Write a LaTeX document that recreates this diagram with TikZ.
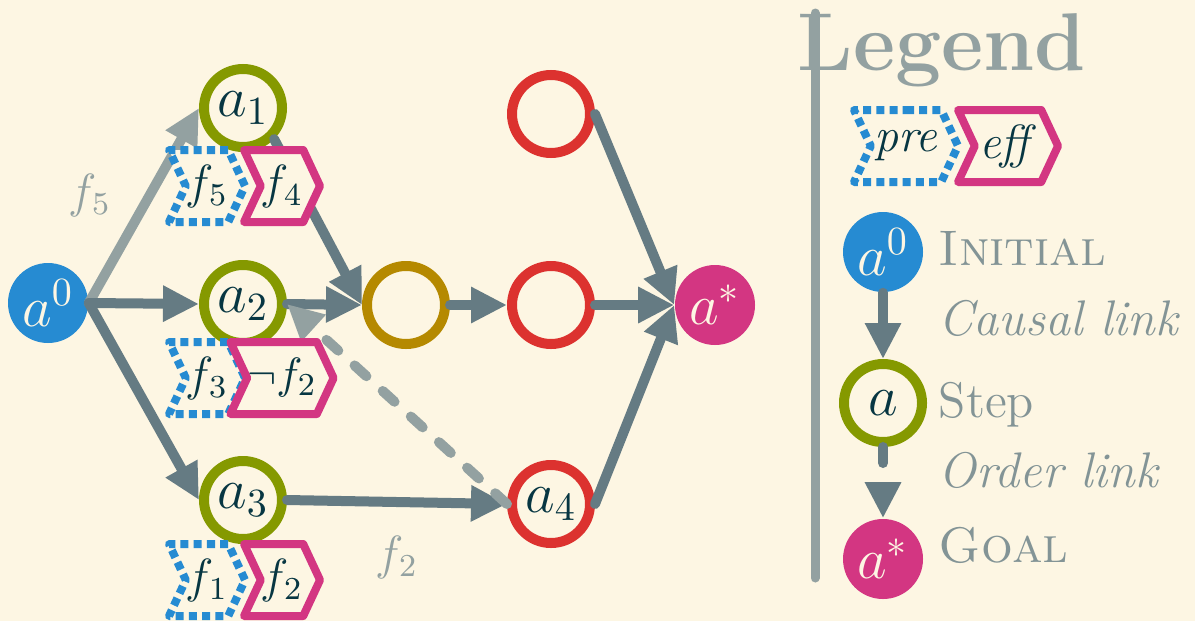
\documentclass[tikz,border=0pt]{standalone}
\usepackage{amsmath}
\usepackage{tikz}
\usetikzlibrary{arrows.meta,shapes.symbols}
\definecolor{bg}{HTML}{FDF6E3}
\definecolor{sblue}{HTML}{268BD2}
\definecolor{smag}{HTML}{D33682}
\definecolor{sred}{HTML}{DC322F}
\definecolor{syellow}{HTML}{B58900}
\definecolor{sgreen}{HTML}{859900}
\definecolor{slate}{HTML}{657B83}
\definecolor{pale}{HTML}{93A1A1}
\definecolor{dim}{HTML}{839496}
\definecolor{ink}{HTML}{073642}
\tikzset{
  nfont/.style={font=\fontsize{14.4}{16}\selectfont},
  init/.style={circle,fill=sblue,text=bg,inner sep=0pt,minimum size=20pt,nfont},
  goal/.style={init,fill=smag},
  stepn/.style={circle,draw=sgreen,line width=2.5pt,fill=bg,text=ink,
    inner sep=0pt,minimum size=19.5pt,nfont},
  stepy/.style={stepn,draw=syellow},
  stepr/.style={stepn,draw=sred},
  pre/.style={signal,signal from=west,signal to=east,signal pointer angle=130,
    draw=sblue,line width=2pt,dash pattern=on 2pt off 1.3pt,line join=round,
    fill=bg,text=ink,inner sep=0pt,minimum width=19pt,minimum height=18pt,
    font=\fontsize{12}{14}\selectfont},
  eff/.style={pre,draw=smag,solid},
  link/.style={-{Triangle[length=9pt,width=8.5pt]},line width=2.5pt,draw=slate,line cap=round},
  linkl/.style={link,draw=pale},
  order/.style={link,dash pattern=on 4pt off 5.5pt},
  orderl/.style={order,draw=pale},
  flab/.style={text=pale,font=\fontsize{12}{14}\selectfont},
  legtxt/.style={text=dim,anchor=base west,inner sep=0pt,font=\fontsize{12.5}{15}\selectfont},
}
\begin{document}
\begin{tikzpicture}[x=0.25pt,y=-0.25pt]
  \fill[bg] (0,0) rectangle (1195,621);
  \useasboundingbox (0,0) rectangle (1195,621);
  % plan
  \node[init](a0) at (48,303){$a^0$};
  \node[stepn](a1) at (243,108){$a_1$};
  \node[stepn](a2) at (243,304){$a_2$};
  \node[stepn](a3) at (243,500){$a_3$};
  \node[stepy](m) at (406,305){};
  \node[stepr](r1) at (551,114){};
  \node[stepr](r2) at (551,305){};
  \node[stepr](a4) at (551,504){$a_4$};
  \node[goal](as) at (715,305){$a^*$};
  \draw[linkl](a0.east)--(a1.west) node[flab,pos=0.55,left=5pt]{$f_5$};
  \foreach \x/\y in {a0.east/a2.west,a0.east/a3.west,a1.south east/m.west,a2.east/m.west,
    m.east/r2.west,r2.east/as.west,r1.east/as.west,a4.east/as.west}
    \draw[link](\x)--(\y);
  \draw[link](a3.east)--(a4.west) node[flab,midway,below=4pt]{$f_2$};
  \draw[orderl](a4.west)--(a2.east);
  % preconditions and effects
  \node[pre](p1) at (207,186){$f_5$};
  \node[eff](e1) at (282,186){$f_4$};
  \node[pre](p2) at (207,378){$f_3$};
  \node[eff,font=\fontsize{11}{13}\selectfont](e2) at (282,378){$\neg f_2$};
  \node[pre](p3) at (207,580){$f_1$};
  \node[eff](e3) at (282,580){$f_2$};
  % legend
  \draw[pale,line width=2.25pt,line cap=round](815,13)--(815,578);
  \node[text=pale,anchor=base west,inner sep=0pt,font=\fontsize{20.5}{24}\selectfont\bfseries](leg) at (797,70){Legend};
  \node[pre,minimum width=26pt](lp) at (906,146){\textit{pre}};
  \node[eff,minimum width=25pt](le) at (1008,146){\textit{eff}};
  \node[init](li) at (883,252){$a^0$};
  \node[stepn](ls) at (883,403){$a$};
  \node[goal](lg) at (883,559){$a^*$};
  \draw[link](li)--(ls);
  \draw[order](ls)--(lg);
  \node[legtxt](ti) at (938,265){\textsc{Initial}};
  \node[legtxt](tc) at (938,335){\textit{Causal link}};
  \node[legtxt](ts) at (938,417){Step};
  \node[legtxt](to) at (938,487){\textit{Order link}};
  \node[legtxt](tg) at (938,562){\textsc{Goal}};
\end{tikzpicture}
\end{document}
